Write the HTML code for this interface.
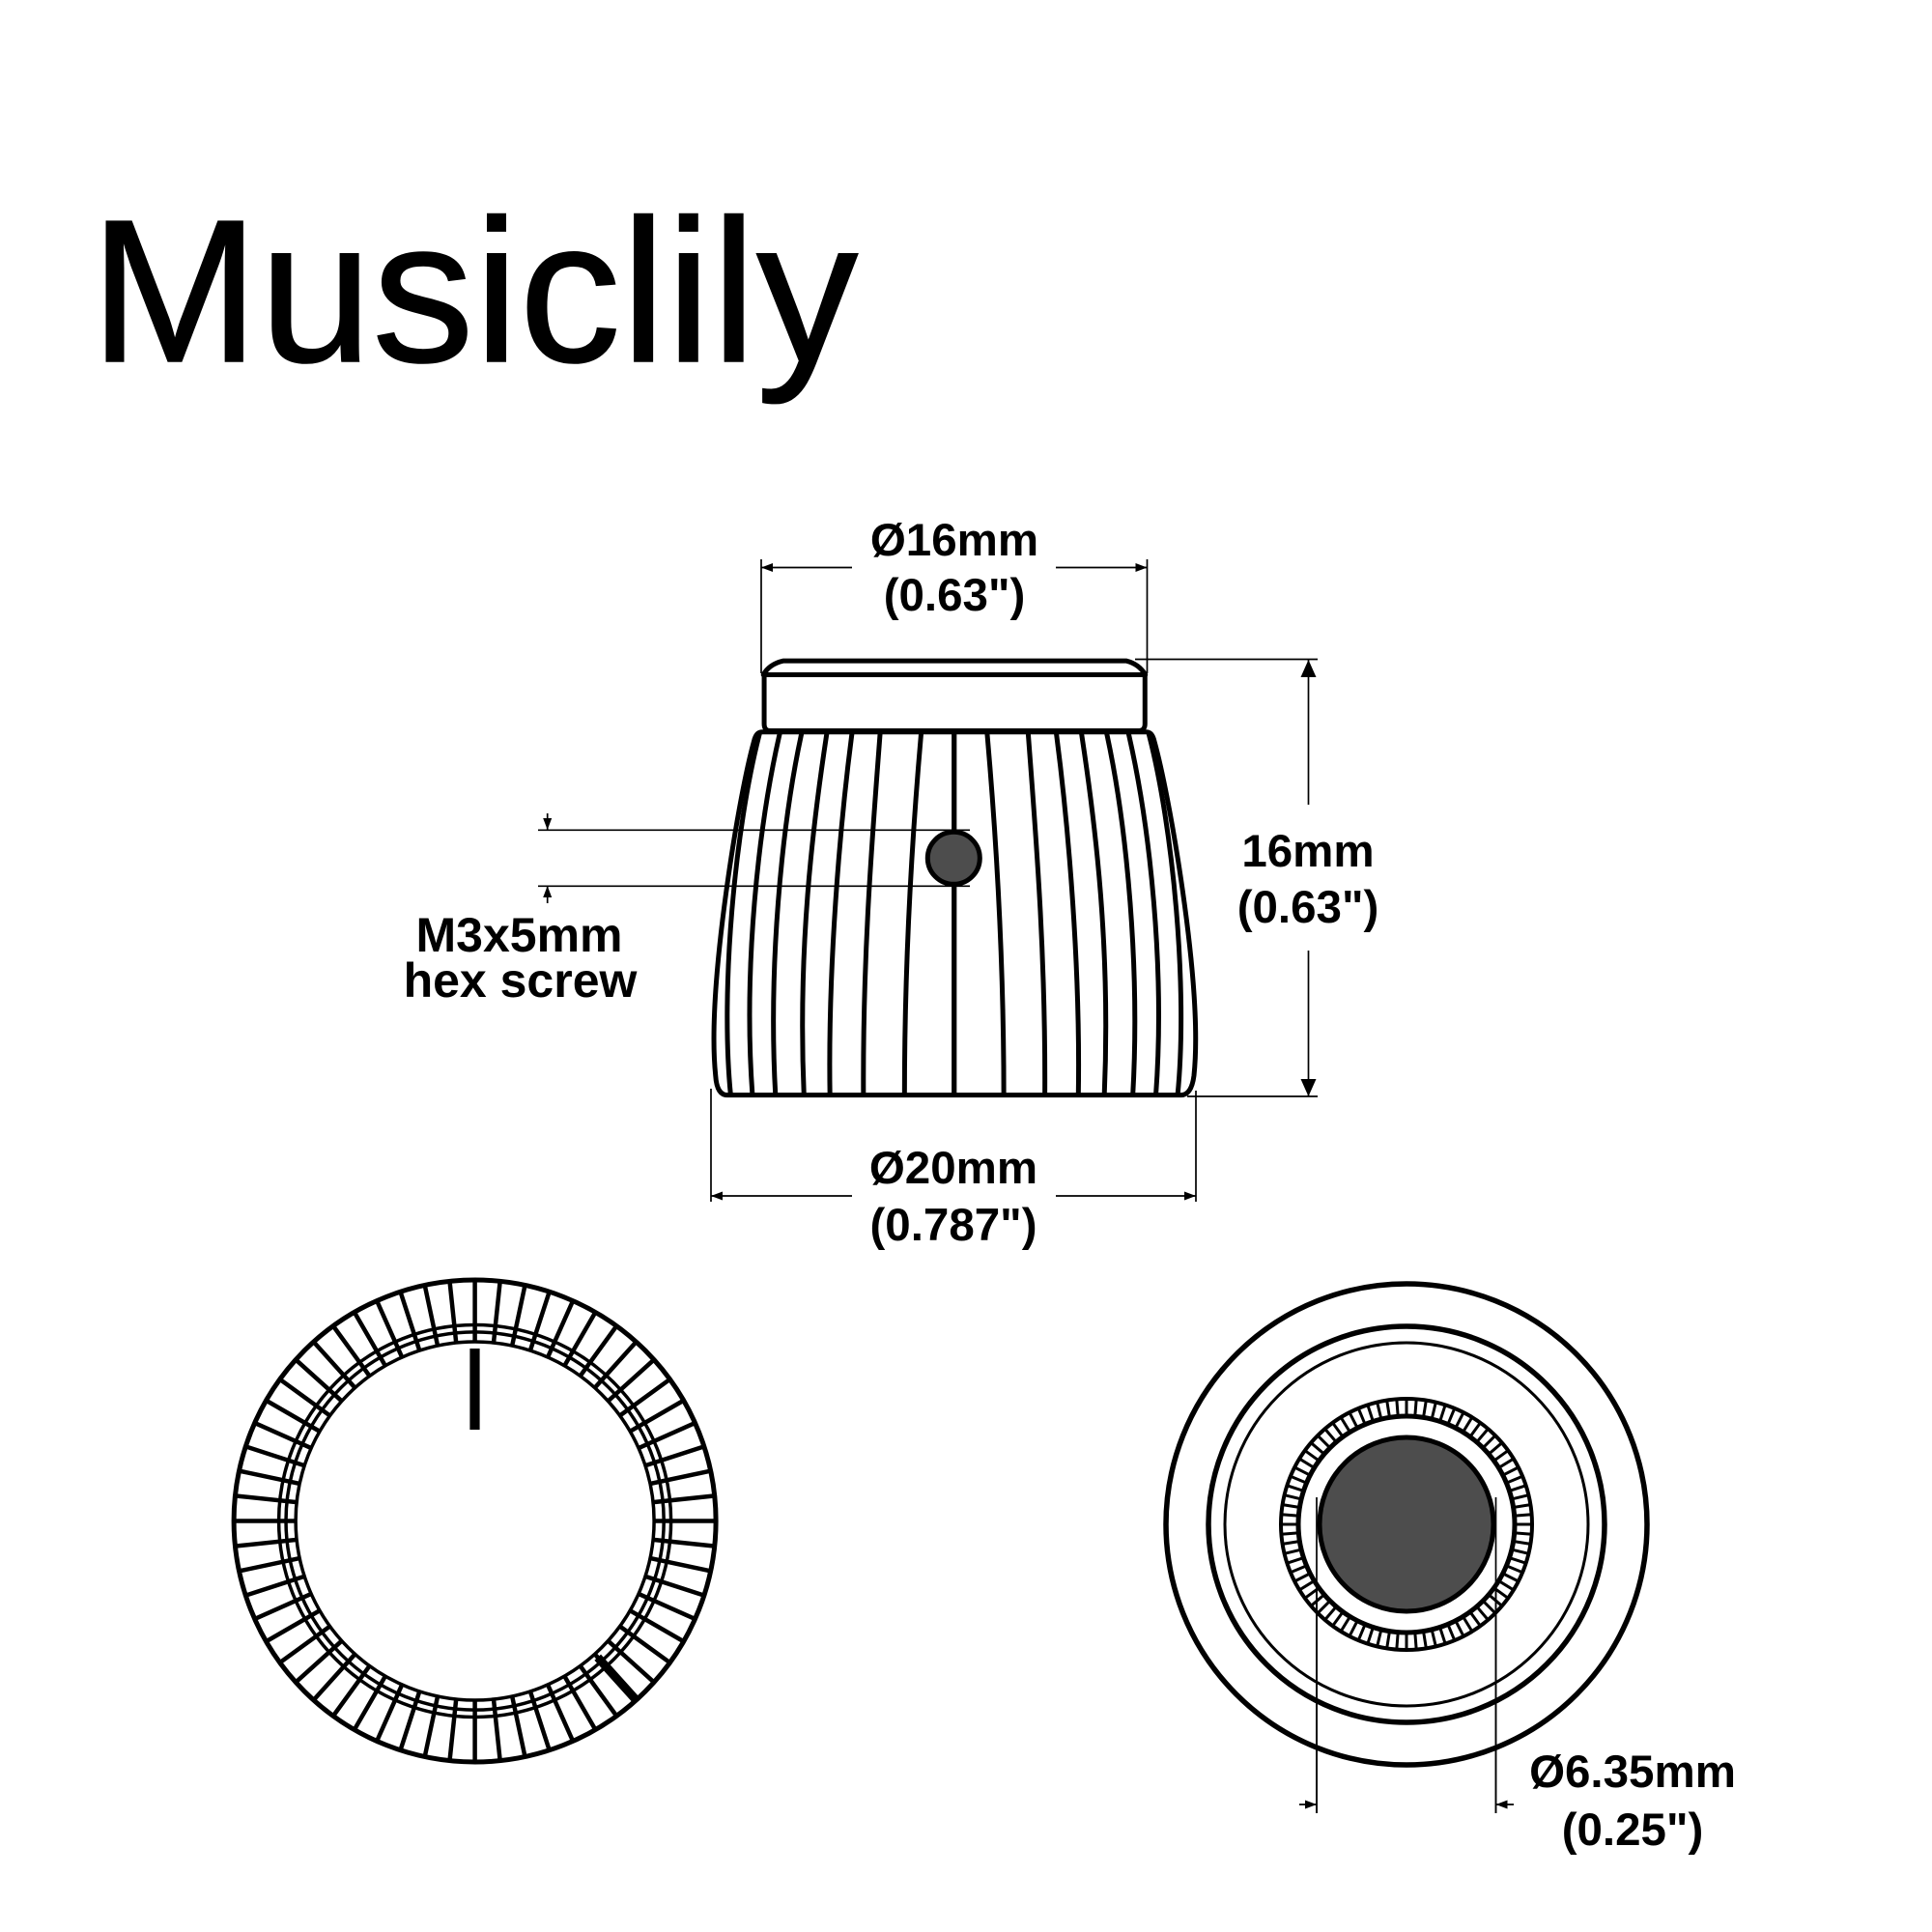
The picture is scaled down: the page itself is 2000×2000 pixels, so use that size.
<!DOCTYPE html>
<html><head><meta charset="utf-8"><style>
html,body{margin:0;padding:0;background:#fff}
svg{display:block}
text{font-family:"Liberation Sans",Arial,sans-serif;fill:#000}
.b{font-weight:700;text-anchor:middle;font-size:47.5px}
.c{font-weight:700;text-anchor:middle;font-size:50px}
.r path{fill:none;stroke:#000;stroke-width:5;stroke-linejoin:round;vector-effect:non-scaling-stroke}
.l{stroke:#000;stroke-width:1.7;fill:none}
</style></head><body>
<svg xmlns="http://www.w3.org/2000/svg" width="2000" height="2000" viewBox="0 0 2000 2000">
<rect width="2000" height="2000" fill="#fff"/>
<text x="93" y="374" font-size="210.5" stroke="#000" stroke-width="1.5">Musiclily</text>

<defs>
<g id="side" class="r">
<path d="M585 565C565 800 545 1100 545 1458"/>
<path d="M487 565C470 800 445 1100 447 1458"/>
<path d="M420 565C390 800 362 1150 367 1458"/>
<path d="M360 565C325 800 290 1100 305 1458"/>
<path d="M300 565C250 800 220 1150 237 1458"/>
<path d="M248 565C195 800 160 1150 182 1458"/>
<path d="M200 565C140 800 105 1200 130 1458"/>
<path d="M663.5 565V1458"/>
</g>
<line id="d" x1="0" y1="-250" x2="0" y2="250" stroke="#000" stroke-width="4.5"/>
<line id="k" x1="0" y1="-130" x2="0" y2="130" stroke="#000" stroke-width="3"/>
</defs>

<g transform="translate(700 520) scale(.43365 .42088)">
<g class="r">
<path d="M208 424Q222 398 255 390H1075Q1105 398 1120 424Z"/>
<path d="M210 424V545Q210 562 225 562H1103Q1119 562 1119 545V424"/>
<path d="M90 1320C90 1100 150 720 185 590Q190 565 205 565H1122Q1137 565 1142 590C1177 720 1240 1100 1240 1320Q1240 1370 1236 1410Q1230 1458 1205 1458H122Q97 1458 94 1410Q90 1370 90 1320Z"/>
</g>
<use href="#side"/>
<use href="#side" transform="matrix(-1 0 0 1 1327 0)"/>
</g>

<circle cx="987.3" cy="888.3" r="27" fill="#4d4d4d" stroke="#000" stroke-width="5"/>

<g class="l">
<path d="M788 579V697M1187.5 579V697M788 587.5H882M1093 587.5H1187.5"/>
<path d="M1175 682.5H1364M1354.5 682.5V833M1354.5 984V1135M1229 1135H1364"/>
<path d="M736 1127V1244M1238 1129V1244M736 1238H882M1093 1238H1238"/>
<path d="M557 859.3H1004M557 917.3H1004M566.7 842V859M566.7 917V935"/>
<path d="M1363 1550V1877M1548.5 1550V1877M1345 1868H1363M1548.5 1868H1567"/>
</g>
<g fill="#000">
<path d="M788 587.5l12-4.5v9zM1187.5 587.5l-12-4.5v9z"/>
<path d="M1354.5 683l-8 18h16zM1354.5 1135l-8-18h16z"/>
<path d="M736 1238l12-4.5v9zM1238 1238l-12-4.5v9z"/>
<path d="M566.7 859l-4.5-12h9zM566.7 917l-4.5 12h9z"/>
<path d="M1363 1868l-12-4.5v9zM1548.5 1868l12-4.5v9z"/>
</g>

<text class="b" x="988" y="575">Ø16mm</text>
<text class="b" x="988" y="632">(0.63")</text>
<text class="b" x="1354" y="897">16mm</text>
<text class="b" x="1354" y="955">(0.63")</text>
<text class="b" x="987" y="1225">Ø20mm</text>
<text class="b" x="987" y="1284">(0.787")</text>
<text class="c" x="537.5" y="985">M3x5mm</text>
<text class="c" x="538.5" y="1032">hex screw</text>
<text class="b" x="1690" y="1850">Ø6.35mm</text>
<text class="b" x="1690" y="1910">(0.25")</text>

<g transform="translate(491.6 1574.5)">
<use href="#d"/><use href="#d" transform="rotate(6)"/><use href="#d" transform="rotate(12)"/><use href="#d" transform="rotate(18)"/><use href="#d" transform="rotate(24)"/><use href="#d" transform="rotate(30)"/><use href="#d" transform="rotate(36)"/><use href="#d" transform="rotate(42)"/><use href="#d" transform="rotate(48)"/><use href="#d" transform="rotate(54)"/><use href="#d" transform="rotate(60)"/><use href="#d" transform="rotate(66)"/><use href="#d" transform="rotate(72)"/><use href="#d" transform="rotate(78)"/><use href="#d" transform="rotate(84)"/><use href="#d" transform="rotate(90)"/><use href="#d" transform="rotate(96)"/><use href="#d" transform="rotate(102)"/><use href="#d" transform="rotate(108)"/><use href="#d" transform="rotate(114)"/><use href="#d" transform="rotate(120)"/><use href="#d" transform="rotate(126)"/><use href="#d" transform="rotate(132)"/><use href="#d" transform="rotate(138)"/><use href="#d" transform="rotate(144)"/><use href="#d" transform="rotate(150)"/><use href="#d" transform="rotate(156)"/><use href="#d" transform="rotate(162)"/><use href="#d" transform="rotate(168)"/><use href="#d" transform="rotate(174)"/>
<line x1="0" y1="-190" x2="0" y2="-250" stroke="#000" stroke-width="9" transform="rotate(138)"/>
<circle r="185.5" fill="#fff" stroke="#000" stroke-width="3.5"/>
<circle r="195.6" fill="none" stroke="#000" stroke-width="3.5"/>
<circle r="203" fill="none" stroke="#000" stroke-width="3.5"/>
<circle r="249.5" fill="none" stroke="#000" stroke-width="5"/>
<rect x="-5.2" y="-178.5" width="10.2" height="84" fill="#000"/>
</g>

<g transform="translate(1456 1578)">
<circle r="249" fill="none" stroke="#000" stroke-width="5.5"/>
<circle r="205" fill="none" stroke="#000" stroke-width="5.5"/>
<circle r="188" fill="none" stroke="#000" stroke-width="3"/>
<use href="#k"/><use href="#k" transform="rotate(4.5)"/><use href="#k" transform="rotate(9)"/><use href="#k" transform="rotate(13.5)"/><use href="#k" transform="rotate(18)"/><use href="#k" transform="rotate(22.5)"/><use href="#k" transform="rotate(27)"/><use href="#k" transform="rotate(31.5)"/><use href="#k" transform="rotate(36)"/><use href="#k" transform="rotate(40.5)"/><use href="#k" transform="rotate(45)"/><use href="#k" transform="rotate(49.5)"/><use href="#k" transform="rotate(54)"/><use href="#k" transform="rotate(58.5)"/><use href="#k" transform="rotate(63)"/><use href="#k" transform="rotate(67.5)"/><use href="#k" transform="rotate(72)"/><use href="#k" transform="rotate(76.5)"/><use href="#k" transform="rotate(81)"/><use href="#k" transform="rotate(85.5)"/><use href="#k" transform="rotate(90)"/><use href="#k" transform="rotate(94.5)"/><use href="#k" transform="rotate(99)"/><use href="#k" transform="rotate(103.5)"/><use href="#k" transform="rotate(108)"/><use href="#k" transform="rotate(112.5)"/><use href="#k" transform="rotate(117)"/><use href="#k" transform="rotate(121.5)"/><use href="#k" transform="rotate(126)"/><use href="#k" transform="rotate(130.5)"/><use href="#k" transform="rotate(135)"/><use href="#k" transform="rotate(139.5)"/><use href="#k" transform="rotate(144)"/><use href="#k" transform="rotate(148.5)"/><use href="#k" transform="rotate(153)"/><use href="#k" transform="rotate(157.5)"/><use href="#k" transform="rotate(162)"/><use href="#k" transform="rotate(166.5)"/><use href="#k" transform="rotate(171)"/><use href="#k" transform="rotate(175.5)"/>
<circle r="130" fill="none" stroke="#000" stroke-width="4"/>
<circle r="112" fill="#fff" stroke="#000" stroke-width="5"/>
<circle r="90" fill="#4d4d4d" stroke="#000" stroke-width="5"/>
</g>
<path class="l" d="M1363 1550V1877M1548.5 1550V1877"/>
</svg>
</body></html>
